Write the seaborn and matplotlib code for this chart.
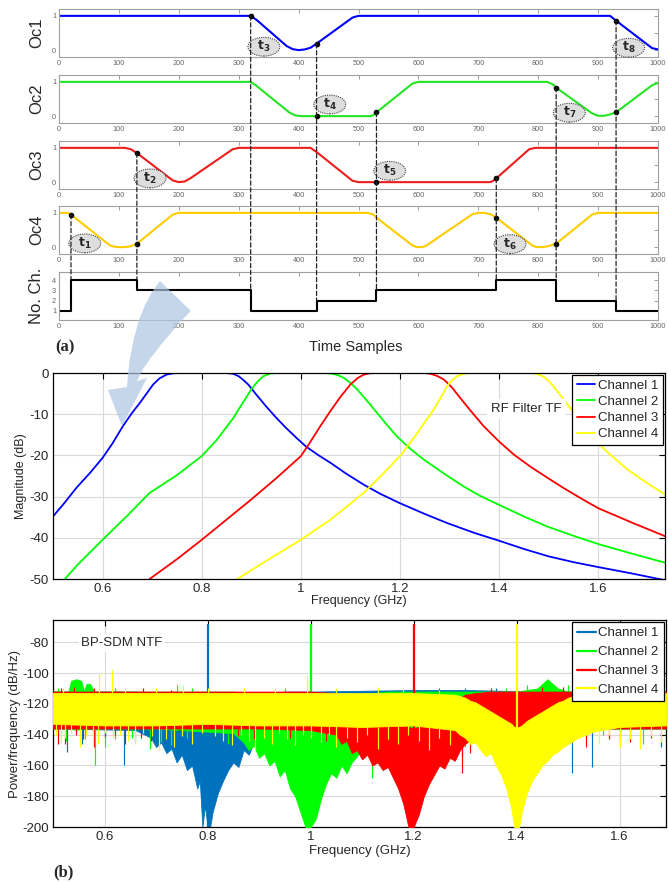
import numpy as np
import pandas as pd
import matplotlib
matplotlib.use("Agg")
import matplotlib.pyplot as plt
import seaborn as sns
from matplotlib.patches import ConnectionPatch, Polygon, Ellipse
from matplotlib.lines import Line2D
from matplotlib.offsetbox import DrawingArea, AnnotationBbox

# ------------------------------------------------------------------ DATA
# (a) occupancy traces (time sample, value)
oc1_t = [0, 320, 330, 380, 390, 400, 410, 420, 430, 490, 500, 920, 930, 990, 1000]
oc1_v = [1.0, 1.0, 0.88, 0.12, 0.03, 0.0, 0.02, 0.07, 0.19, 0.95, 1.0, 1.0, 0.86, 0.06, 0.02]
oc2_t = [0, 320, 330, 385, 395, 405, 520, 525, 530, 590, 600, 815, 825, 830, 890, 900, 910, 920, 930, 990, 1000]
oc2_v = [1.0, 1.0, 0.88, 0.1, 0.02, 0.0, 0.0, 0.03, 0.11, 0.95, 1.0, 1.0, 0.92, 0.83, 0.08, 0.01, 0.01, 0.05, 0.11, 0.9, 0.97]
oc3_t = [0, 110, 120, 130, 190, 200, 210, 220, 290, 300, 420, 430, 490, 500, 720, 725, 730, 785, 795, 1000]
oc3_v = [1.0, 1.0, 0.96, 0.85, 0.05, 0.0, 0.02, 0.12, 0.96, 1.0, 1.0, 0.88, 0.04, 0.0, 0.0, 0.04, 0.11, 0.96, 1.0, 1.0]
oc4_t = [0, 15, 20, 85, 93, 100, 110, 118, 125, 130, 190, 200, 515, 525, 530, 590, 598, 605, 612, 690,
         700, 710, 722, 730, 790, 798, 805, 815, 823, 830, 890, 900, 1000]
oc4_v = [1.0, 1.0, 0.95, 0.05, 0.01, 0.0, 0.0, 0.02, 0.06, 0.1, 0.95, 1.0, 1.0, 0.95, 0.86, 0.05, 0.0, 0.0, 0.03, 0.96,
         1.0, 1.0, 0.95, 0.86, 0.05, 0.0, 0.0, 0.02, 0.06, 0.1, 0.95, 1.0, 1.0]
nch_t = [0, 20, 130, 320, 430, 530, 730, 830, 930, 1000]
nch_v = [1, 4, 3, 1, 2, 3, 4, 2, 1, 1]

ev_t = [20, 130, 320, 430, 530, 730, 830, 930]
ev_dots = [[3], [2, 3], [0], [0, 1], [1, 2], [2, 3], [1, 3], [0, 1]]
ev_names = ["t_1", "t_2", "t_3", "t_4", "t_5", "t_6", "t_7", "t_8"]
lbl_panel = [3, 2, 0, 1, 2, 3, 1, 0]
lbl_x = [43, 152, 342, 452, 552, 753, 852, 951]
lbl_y = [0.11, 0.11, 0.10, 0.34, 0.33, 0.09, 0.10, 0.07]

oc_names = ["Oc1", "Oc2", "Oc3", "Oc4"]
oc_colors = ["#0000ff", "#22e622", "#ee1c1c", "#ffcc00"]
time_ticks = [0, 100, 200, 300, 400, 500, 600, 700, 800, 900, 1000]

# (b) RF filter transfer functions (GHz, dB)
tf1_f = [0.50, 0.52, 0.547, 0.575, 0.60, 0.62, 0.641, 0.66, 0.675, 0.69, 0.702, 0.715, 0.729, 0.742, 0.756,
         0.80, 0.850, 0.864, 0.875, 0.885, 0.894, 0.91, 0.93, 0.95, 0.97, 0.99, 1.01, 1.035, 1.06, 1.09, 1.127,
         1.16, 1.20, 1.25, 1.295, 1.35, 1.40, 1.45, 1.50, 1.55, 1.60, 1.67, 1.735]
tf1_m = [-34.8, -32.0, -27.9, -24.2, -20.6, -17.1, -12.9, -9.6, -7.3, -4.8, -2.8, -1.3, -0.4, -0.08, 0.0,
         0.0, 0.0, -0.2, -0.8, -1.8, -2.8, -5.2, -8.1, -10.8, -13.3, -15.6, -17.8, -19.9, -21.8, -24.3, -27.1,
         -29.3, -31.6, -34.2, -36.4, -38.8, -40.7, -42.7, -44.5, -45.9, -47.1, -48.7, -50.3]
tf2_f = [0.524, 0.55, 0.60, 0.65, 0.695, 0.75, 0.80, 0.83, 0.864, 0.88, 0.90, 0.912, 0.924, 0.938, 0.951,
         1.00, 1.048, 1.06, 1.075, 1.087, 1.10, 1.114, 1.134, 1.154, 1.174, 1.194, 1.22, 1.248, 1.29, 1.328,
         1.36, 1.40, 1.45, 1.496, 1.55, 1.60, 1.67, 1.737]
tf2_m = [-50.0, -46.5, -40.5, -34.6, -29.1, -24.8, -20.2, -16.3, -10.9, -7.8, -4.0, -2.2, -0.8, -0.15, 0.0,
         0.0, 0.0, -0.1, -0.5, -1.2, -2.4, -4.0, -6.8, -9.7, -12.6, -15.4, -18.3, -21.0, -24.5, -27.5,
         -29.7, -32.0, -34.8, -37.2, -39.5, -41.5, -43.9, -46.1]
tf3_f = [0.695, 0.75, 0.80, 0.85, 0.90, 0.95, 1.00, 1.02, 1.04, 1.06, 1.08, 1.10, 1.115, 1.127, 1.14, 1.154,
         1.20, 1.25, 1.262, 1.275, 1.289, 1.305, 1.328, 1.35, 1.369, 1.40, 1.43, 1.463, 1.50, 1.53, 1.565,
         1.60, 1.67, 1.737]
tf3_m = [-50.0, -45.2, -40.5, -35.6, -30.7, -25.6, -20.2, -16.6, -12.8, -9.2, -5.8, -2.8, -1.2, -0.4, -0.05, 0.0,
         0.0, 0.0, -0.2, -0.7, -1.6, -3.5, -7.0, -10.2, -12.9, -16.6, -19.8, -22.7, -25.6, -27.9, -30.4,
         -32.8, -36.4, -39.7]
tf4_f = [0.872, 0.93, 1.00, 1.06, 1.127, 1.16, 1.20, 1.235, 1.268, 1.283, 1.295, 1.305, 1.315, 1.33, 1.342,
         1.40, 1.465, 1.476, 1.49, 1.505, 1.52, 1.55, 1.58, 1.613, 1.66, 1.70, 1.735]
tf4_m = [-50.0, -45.6, -40.5, -35.6, -29.1, -25.2, -20.2, -14.6, -8.9, -5.9, -3.2, -1.8, -0.8, -0.15, 0.0,
         0.0, 0.0, -0.2, -0.9, -2.5, -4.8, -9.5, -14.2, -18.6, -23.5, -26.8, -29.5]
tf_colors = ["#0000ff", "#00ff00", "#ff0000", "#ffff00"]
channel_labels = ["Channel 1", "Channel 2", "Channel 3", "Channel 4"]
freq_ticks = [0.6, 0.8, 1.0, 1.2, 1.4, 1.6]
freq_ticklabels = ["0.6", "0.8", "1", "1.2", "1.4", "1.6"]
mag_ticks = [0, -10, -20, -30, -40, -50]

# (b) BP-SDM NTF noise bands (GHz, upper / lower envelope dB/Hz)
b1_f = [0.50, 0.66, 0.69, 0.70, 0.71, 0.72, 0.73, 0.74, 0.75, 0.76, 0.77, 0.78, 0.785, 0.79, 0.795, 0.80, 0.805,
        0.81, 0.815, 0.82, 0.83, 0.84, 0.85, 0.86, 0.87, 0.88, 0.89, 0.90, 0.95, 1.00, 1.20, 1.30, 1.45, 1.55, 1.69]
b1_u = [-112, -112, -113, -114, -115, -116, -118, -119, -121, -123, -125, -128, -130, -132, -134, -135, -134,
        -132, -130, -128, -125, -123, -121, -119, -117, -116, -115, -114, -112, -112, -111, -111, -112, -112, -112]
b1_l = [-136, -137, -142, -148, -145, -152, -149, -158, -153, -163, -160, -175, -170, -200, -186, -200, -200,
        -190, -184, -178, -170, -163, -158, -161, -150, -153, -145, -140, -137, -136, -136, -136, -137, -136, -136]
b2_f = [0.50, 0.53, 0.535, 0.545, 0.555, 0.56, 0.565, 0.572, 0.58, 0.70, 0.85, 0.87, 0.88, 0.89, 0.90, 0.91,
        0.92, 0.93, 0.94, 0.95, 0.96, 0.97, 0.98, 0.99, 1.00, 1.01, 1.02, 1.03, 1.04, 1.05, 1.06, 1.07, 1.08,
        1.09, 1.10, 1.12, 1.15, 1.20, 1.30, 1.40, 1.44, 1.46, 1.48, 1.50, 1.60, 1.69]
b2_u = [-112, -112, -105, -104, -105, -112, -107, -107, -112, -112, -112, -113, -113, -114, -115, -116,
        -118, -120, -122, -124, -126, -128, -130, -133, -135, -133, -130, -128, -125, -122, -119, -117, -116,
        -115, -114, -113, -112, -112, -112, -112, -110, -104, -110, -112, -112, -112]
b2_l = [-136, -136, -136, -137, -136, -136, -136, -136, -136, -136, -139, -145, -150, -147, -155, -152,
        -160, -157, -167, -163, -175, -180, -190, -200, -200, -195, -182, -172, -165, -168, -160, -165, -158,
        -154, -150, -147, -146, -142, -137, -136, -136, -136, -136, -136, -136, -136]
b3_f = [0.50, 0.70, 0.90, 1.00, 1.05, 1.06, 1.07, 1.08, 1.09, 1.10, 1.11, 1.12, 1.13, 1.14, 1.15, 1.16, 1.17,
        1.18, 1.19, 1.20, 1.21, 1.22, 1.23, 1.24, 1.25, 1.26, 1.27, 1.28, 1.29, 1.30, 1.32, 1.35, 1.40, 1.50,
        1.55, 1.60, 1.69]
b3_u = [-112, -112, -112, -112, -113, -114, -115, -116, -117, -118, -119, -121, -123, -125, -127, -129, -131,
        -133, -135, -136, -135, -133, -131, -128, -125, -122, -120, -118, -116, -114, -113, -112, -112, -112,
        -112, -112, -112]
b3_l = [-136, -136, -136, -137, -140, -146, -144, -152, -150, -156, -153, -160, -158, -163, -161, -168, -175,
        -185, -200, -200, -192, -180, -172, -166, -160, -162, -155, -157, -150, -146, -141, -139, -140, -138,
        -136, -136, -136]
b4_f = [0.50, 0.60, 0.70, 0.80, 0.90, 1.00, 1.10, 1.20, 1.28, 1.29, 1.30, 1.31, 1.32, 1.33, 1.34, 1.35, 1.36,
        1.37, 1.38, 1.39, 1.395, 1.405, 1.41, 1.42, 1.43, 1.44, 1.45, 1.46, 1.47, 1.48, 1.49, 1.50, 1.52, 1.55,
        1.60, 1.69]
b4_u = [-113, -113, -113, -113, -113, -113, -113, -113, -114, -115, -116, -118, -119, -121, -123, -125, -127,
        -129, -131, -133, -135, -135, -134, -131, -129, -127, -125, -123, -121, -119, -118, -116, -114, -113,
        -113, -113]
b4_l = [-133, -134, -134, -133, -134, -134, -135, -134, -137, -140, -142, -146, -145, -150, -154, -152, -160,
        -166, -175, -188, -200, -200, -190, -178, -170, -165, -160, -157, -153, -151, -148, -146, -142, -138,
        -135, -134]
# isolated noise spikes (GHz, dB/Hz)
sp1_f = [0.527, 0.556, 0.60, 0.637, 0.66, 1.294, 1.382, 1.508, 1.547, 1.60, 1.68,
         1.20, 1.25, 1.30, 1.33, 1.36, 1.42]
sp1_v = [-151, -146, -142, -160, -145, -154, -150, -165, -161, -145, -148,
         -110, -110, -110, -111, -110, -111]
sp2_f = [0.525, 0.562, 0.582, 0.601, 0.62, 0.653, 0.689, 0.71, 0.73, 0.76, 0.84, 1.12, 1.158, 1.19, 1.22,
         1.30, 1.34, 1.418, 1.50, 1.567, 1.60, 1.645, 1.69,
         0.51, 0.62, 0.74, 0.77, 0.95, 1.38, 1.42, 1.50, 1.64]
sp2_v = [-144, -143, -160, -148, -143, -142, -149, -145, -147, -142, -146, -168, -154, -150, -147,
         -148, -145, -142, -144, -140, -143, -146, -145,
         -110, -110, -108, -110, -110, -110, -108, -108, -112]
sp3_f = [0.51, 0.523, 0.545, 0.559, 0.58, 0.60, 0.621, 0.64, 0.67, 0.69, 0.72, 0.744, 0.77, 0.86, 0.89, 0.96,
         1.03, 1.249, 1.294, 1.31, 1.33, 1.45, 1.48, 1.534, 1.58, 1.62, 1.66,
         0.515, 0.54, 0.58, 0.675, 0.73, 1.35, 1.40, 1.45, 1.49]
sp3_v = [-146, -146, -140, -143, -148, -141, -140, -146, -142, -144, -141, -138, -142, -141, -143, -142,
         -144, -154, -165, -152, -148, -147, -145, -148, -143, -145, -142,
         -110, -109, -110, -110, -111, -110, -110, -109, -109]
sp4_f = [0.505, 0.515, 0.523, 0.535, 0.553, 0.565, 0.578, 0.588, 0.60, 0.617, 0.63, 0.645, 0.66, 0.675, 0.692,
         0.705, 0.72, 0.734, 0.75, 0.77, 0.79, 0.815, 0.83, 0.848, 0.865, 0.88, 0.893, 0.91, 0.925, 0.938,
         0.955, 0.97, 0.985, 1.0, 1.02, 1.035, 1.05, 1.07, 1.09, 1.11, 1.13, 1.15, 1.17, 1.19, 1.21, 1.23,
         1.25, 1.27, 1.45, 1.476, 1.56, 1.58, 1.60, 1.62, 1.64, 1.66, 1.68,
         0.52, 0.59, 0.614, 0.64, 0.70, 0.752, 0.80, 0.87, 0.93, 0.994, 1.05, 1.13, 1.18, 1.25, 1.57, 1.63, 1.68]
sp4_v = [-140, -145, -142, -139, -148, -141, -146, -146, -139, -142, -140, -144, -146, -139, -141,
         -150, -143, -148, -141, -146, -139, -141, -144, -147, -140, -144, -150, -142, -146, -139,
         -143, -147, -140, -142, -145, -140, -148, -142, -145, -140, -149, -143, -146, -140, -144, -150,
         -142, -147, -152, -145, -146, -140, -148, -143, -149, -141, -145,
         -110, -100.5, -98, -110, -110, -108, -110, -110, -110, -101, -110, -109, -110, -111, -110, -111, -110]
carrier_f = [0.8, 1.0, 1.2, 1.4]
carrier_peak = [-68, -68, -68, -68]
ntf_colors = ["#0072BD", "#00ff00", "#ff0000", "#ffff00"]
psd_ticks = [-80, -100, -120, -140, -160, -180, -200]

# ------------------------------------------------------------------ STYLE
sns.set_theme(style="white")
plt.rcParams["font.family"] = ["Liberation Sans", "DejaVu Sans"]
plt.rcParams["axes.linewidth"] = 0.9

W, H = 668, 882
fig = plt.figure(figsize=(W / 100, H / 100), dpi=100)
fig.patch.set_facecolor("white")


def ax_px(l, t, r, b):
    return fig.add_axes([l / W, 1 - b / H, (r - l) / W, (b - t) / H])


# ------------------------------------------------------------------ (a)
tops = [9, 75, 141, 206]
oc_axes = [ax_px(59, t, 658, t + 48) for t in tops]
ax_n = ax_px(59, 272, 658, 320)
oc_t = [oc1_t, oc2_t, oc3_t, oc4_t]
oc_v = [oc1_v, oc2_v, oc3_v, oc4_v]


def style_small(ax):
    for s in ax.spines.values():
        s.set_color("#a0a0a0")
        s.set_linewidth(0.8)
    ax.tick_params(direction="in", length=3, width=0.6, color="#909090", labelcolor="#666666",
                   labelsize=5.3, top=True, right=True, pad=2)
    ax.set_xlim(0, 1000)
    ax.set_xticks(time_ticks)
    ax.set_xticklabels([str(v) for v in time_ticks])


for i, ax in enumerate(oc_axes):
    sns.lineplot(x=oc_t[i], y=oc_v[i], ax=ax, color=oc_colors[i], lw=1.5, sort=False, estimator=None)
    style_small(ax)
    ax.set_ylim(-0.2, 1.2)
    ax.set_yticks([0, 0.5, 1])
    ax.set_yticklabels(["0", "", "1"])
    ax.set_ylabel(oc_names[i], fontsize=12, labelpad=6)

sns.lineplot(x=nch_t, y=nch_v, ax=ax_n, color="black", lw=1.5, drawstyle="steps-post",
             sort=False, estimator=None)
style_small(ax_n)
ax_n.set_ylim(0.1, 4.8)
ax_n.set_yticks([1, 2, 3, 4])
ax_n.set_yticklabels(["1", "2", "3", "4"])
ax_n.set_ylabel("No. Ch.", fontsize=12, labelpad=6)

# dashed event lines, dots and labels
for k, t in enumerate(ev_t):
    src = min(ev_dots[k])
    ysrc = np.interp(t, oc_t[src], oc_v[src])
    j = nch_t.index(t)
    ytop = max(nch_v[j], nch_v[j - 1])
    con = ConnectionPatch(xyA=(t, ysrc), coordsA=oc_axes[src].transData,
                          xyB=(t, ytop), coordsB=ax_n.transData,
                          color="#222222", lw=0.9, linestyle=(0, (3.5, 2)), zorder=5)
    fig.add_artist(con)
    for p in ev_dots[k]:
        oc_axes[p].plot([t], [np.interp(t, oc_t[p], oc_v[p])], "o", color="black", ms=3, zorder=6,
                        clip_on=False)
    axl = oc_axes[lbl_panel[k]]
    da = DrawingArea(24, 14, 0, 0)
    da.add_artist(Ellipse((12, 7), 23, 13.5, fc="#dedede", ec="#444444", ls=(0, (1, 1)), lw=0.8))
    ab = AnnotationBbox(da, (lbl_x[k], lbl_y[k]), xycoords="data", frameon=False, pad=0,
                        box_alignment=(0.5, 0.5), zorder=7)
    axl.add_artist(ab)
    axl.text(lbl_x[k], lbl_y[k], r"$\mathbf{" + ev_names[k] + "}$", ha="center",
             va="center", fontsize=9, zorder=8)

fig.text(55 / W, 1 - 347 / H, "(a)", ha="left", va="center", fontsize=12, fontweight="bold",
         family=["Liberation Serif", "DejaVu Serif"])
fig.text(356 / W, 1 - 347 / H, "Time Samples", ha="center", va="center", fontsize=10.5)

# ------------------------------------------------------------------ (b) RF filter TF
ax_m = ax_px(53, 373, 665, 579)
tf_f = [tf1_f, tf2_f, tf3_f, tf4_f]
tf_m = [tf1_m, tf2_m, tf3_m, tf4_m]
for i in range(4):
    sns.lineplot(x=tf_f[i], y=tf_m[i], ax=ax_m, color=tf_colors[i], lw=1.3, label=channel_labels[i],
                 sort=False, estimator=None)
ax_m.set_xlim(0.5, 1.735)
ax_m.set_ylim(-50, 0)


def style_big(ax):
    for s in ax.spines.values():
        s.set_color("black")
        s.set_linewidth(0.9)
    ax.tick_params(direction="in", length=4, width=0.8, color="black", labelsize=9.5, top=True,
                   right=True, pad=3)
    ax.grid(True, color="#dadada", lw=0.8)
    ax.set_axisbelow(True)


style_big(ax_m)
ax_m.set_xticks(freq_ticks)
ax_m.set_xticklabels(freq_ticklabels)
ax_m.set_yticks(mag_ticks)
ax_m.set_yticklabels([str(v) for v in mag_ticks])
ax_m.set_xlabel("Frequency (GHz)", fontsize=9, labelpad=0)
ax_m.set_ylabel("Magnitude (dB)", fontsize=9, labelpad=2)
ax_m.text(1.455, -8.7, "RF Filter TF", ha="center", va="center", fontsize=9.5, zorder=8,
          bbox=dict(fc="white", ec="none", pad=3))
leg = ax_m.legend(loc="upper right", fontsize=9.5, frameon=True, fancybox=False, framealpha=1,
                  edgecolor="black", borderaxespad=0.15, handlelength=1.4, handletextpad=0.2,
                  labelspacing=0.3, borderpad=0.35)
leg.get_frame().set_linewidth(0.9)
leg.set_zorder(9)

# ------------------------------------------------------------------ (b) BP-SDM NTF
ax_b = ax_px(53, 620, 666, 827)
bands = [(b1_f, b1_u, b1_l, sp1_f, sp1_v), (b2_f, b2_u, b2_l, sp2_f, sp2_v),
         (b3_f, b3_u, b3_l, sp3_f, sp3_v), (b4_f, b4_u, b4_l, sp4_f, sp4_v)]
for i, (bf, bu, bl, sf, sv) in enumerate(bands):
    c = ntf_colors[i]
    ax_b.fill_between(bf, bl, bu, color=c, lw=0.6, zorder=2 + i)
    base = [np.interp(f, bf, bu) if v > np.interp(f, bf, bu) else np.interp(f, bf, bl) for f, v in zip(sf, sv)]
    ax_b.vlines(sf, base, sv, colors=c, lw=0.85, zorder=2 + i)
    ax_b.vlines([carrier_f[i]], [-200], [carrier_peak[i]], colors=c, lw=1.6, zorder=2 + i)

ax_b.set_xlim(0.5, 1.69)
ax_b.set_ylim(-200, -65.5)
style_big(ax_b)
ax_b.set_xticks(freq_ticks)
ax_b.set_xticklabels(freq_ticklabels)
ax_b.set_yticks(psd_ticks)
ax_b.set_yticklabels([str(v) for v in psd_ticks])
ax_b.set_xlabel("Frequency (GHz)", fontsize=9.5, labelpad=1)
ax_b.set_ylabel("Power/frequency (dB/Hz)", fontsize=9.5, labelpad=1)
ax_b.text(0.634, -80.4, "BP-SDM NTF", ha="center", va="center", fontsize=9.5, zorder=8,
          bbox=dict(fc="white", ec="none", pad=2))
handles = [Line2D([], [], color=ntf_colors[i], lw=1.6) for i in range(4)]
leg2 = ax_b.legend(handles, channel_labels, loc="upper right", fontsize=9.5, frameon=True, fancybox=False,
                   framealpha=1, edgecolor="black", borderaxespad=0.15, handlelength=1.4,
                   handletextpad=0.2, labelspacing=0.5, borderpad=0.4)
leg2.get_frame().set_linewidth(0.9)
leg2.set_zorder(9)

fig.text(53 / W, 1 - 872 / H, "(b)", ha="left", va="center", fontsize=12, fontweight="bold",
         family=["Liberation Serif", "DejaVu Serif"])

# ------------------------------------------------------------------ decorative arrow
arrow_px = [(160, 281), (152, 292), (145, 305), (139, 320), (134, 338), (130, 358), (128, 374),
            (127, 387), (108, 390), (122, 426), (147, 378), (137, 381), (143, 369), (150, 359),
            (160, 346), (170, 334), (180, 322), (191, 311)]
arrow = Polygon([(x / W, 1 - y / H) for x, y in arrow_px], closed=True, transform=fig.transFigure,
                fc=(0.686, 0.771, 0.886), ec="none", alpha=0.7, zorder=20)
fig.add_artist(arrow)

fig.savefig("out.png", dpi=100, facecolor="white")
